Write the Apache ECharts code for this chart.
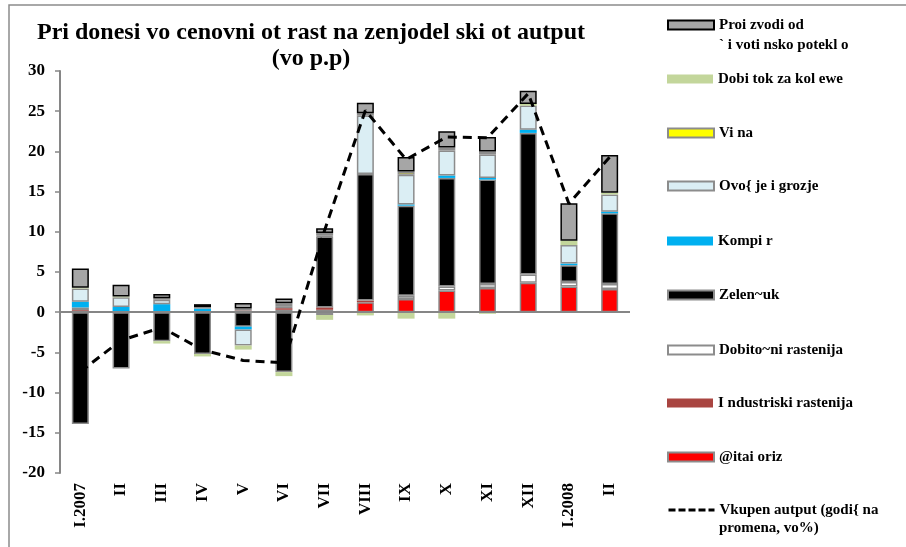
<!DOCTYPE html>
<html>
<head>
<meta charset="utf-8">
<script src="https://cdn.jsdelivr.net/npm/echarts@6/dist/echarts.min.js"></script>
<style>
  html, body { margin: 0; padding: 0; background: #fff; }
  #chart { width: 906px; height: 547px; }
</style>
</head>
<body>
<div id="chart"></div>
<script>
// kategorii (meseci)
const categories = ["I.2007", "II", "III", "IV", "V", "VI", "VII", "VIII", "IX", "X", "XI", "XII", "I.2008", "II"];

// pridonesi po grupi (p.p), redosled od dolu nagore
const zitaOriz     = [null, null, null, null, null, 0.3, 0.3, 1.25, 1.65, 2.7, 3.0, 3.65, 3.2, 2.9];
const industriski  = [0.25, 0.05, 0.15, 0.15, 0.2, 0.2, 0.3, 0.2, -0.1, null, null, null, null, null];
const dobitocni    = [0.35, null, null, null, null, null, -0.35, null, 0.4, 0.5, 0.5, 1.05, 0.55, 0.6];
const zelencuk     = [-13.9, -7.0, -3.6, -5.2, -1.8, -7.45, 8.8, 15.75, 11.2, 13.5, 13.0, 17.6, 2.1, 8.8];
const kompir       = [0.7, 0.6, 0.85, 0.3, -0.35, null, null, null, 0.15, 0.3, 0.2, 0.4, 0.2, 0.2];
const ovosje       = [1.65, 1.2, 0.55, null, -2.0, 0.25, 0.12, 7.25, 3.7, 3.1, 2.9, 3.0, 2.3, 2.15];
const vina         = [null, null, 0.2, 0.2, 0.25, 0.35, 0.33, 0.3, 0.4, 0.4, 0.4, null, null, null];
const dobitok      = [0.1, 0.1, -0.3, -0.3, -0.5, -0.5, -0.6, -0.4, -0.7, -0.8, -0.2, 0.2, 0.55, 0.2];
const proizvodi    = [2.4, 1.45, 0.5, 0.35, 0.7, 0.6, 0.58, 1.3, 1.8, 2.0, 1.8, 1.65, 4.65, 4.7];

// vkupen autput (godisna promena, vo %)
const vkupen = [-7.4, -3.5, -1.9, -4.7, -6.0, -6.3, 10.2, 25.1, 19.0, 21.8, 21.7, 27.2, 13.5, 19.3];

const yTicks = { min: -20, max: 30, step: 5 };

const serif = "Liberation Serif";
const chart = echarts.init(document.getElementById("chart"));

// stolbovi: ime (prv red, vtor red), podatoci, boja, rab
const barDefs = [
  [["@itai oriz"], zitaOriz, "#ff0000", "#8c8c8c", 1.5],
  [["I ndustriski rastenija"], industriski, "#a94541", null, 0],
  [["Dobito~ni rastenija"], dobitocni, "#ffffff", "#8c8c8c", 1.5],
  [["Zelen~uk"], zelencuk, "#000000", "#8c8c8c", 1.5],
  [["Kompi r"], kompir, "#00b0f0", null, 0],
  [["Ovo{ je i grozje"], ovosje, "#dbeef4", "#8c8c8c", 1.5],
  [["Vi na"], vina, "#ffff00", "#8c8c8c", 1.5],
  [["Dobi tok za kol ewe"], dobitok, "#c3d69b", null, 0],
  [["Proi zvodi od", "` i voti nsko potekl o"], proizvodi, "#a6a6a6", "#000000", 1.5],
];
const lineLabel = ["Vkupen autput (godi{ na", "promena, vo%)"];

let series = barDefs.map(([label, data, color, border, bw]) => ({
  name: label.join(" "),
  type: "bar",
  stack: "pridonesi",
  barWidth: 17,
  data: data,
  itemStyle: { color: color, borderColor: border || color, borderWidth: bw },
}));
series[0].markLine = {
  silent: true,
  symbol: "none",
  label: { show: false },
  lineStyle: { color: "#868686", width: 2, type: "solid" },
  data: [{ yAxis: 0 }],
};
series.push({
  name: lineLabel.join(" "),
  type: "line",
  data: vkupen,
  symbol: "none",
  z: 5,
  itemStyle: { color: "#000" },
  lineStyle: { color: "#000", width: 3, type: [9, 6] },
});

// legenda: posebno za sekoj red, kako vo originalot
const legendRows = [
  [barDefs[8][0], 25],
  [barDefs[7][0], 79],
  [barDefs[6][0], 133],
  [barDefs[5][0], 186],
  [barDefs[4][0], 241],
  [barDefs[3][0], 295],
  [barDefs[2][0], 350],
  [barDefs[1][0], 403],
  [barDefs[0][0], 457],
  [lineLabel, 510],
];
const lh = 19;
const legendFont = { fontFamily: serif, fontWeight: "bold", fontSize: 15, fill: "#000" };
const legends = legendRows.map(([label, cy]) => {
  const isLine = label === lineLabel;
  return {
    data: [label.join(" ")],
    orient: "vertical",
    left: 667,
    top: cy - lh / 2,
    padding: 0,
    itemWidth: 46,
    itemHeight: 9,
    icon: isLine ? undefined : "rect",
    selectedMode: false,
    formatter: () => label[0],
    itemStyle: isLine ? { opacity: 0 } : {},
    lineStyle: { width: 3, type: [7, 3] },
    textStyle: {
      fontFamily: serif,
      fontWeight: "bold",
      fontSize: 15,
      color: "#000",
      lineHeight: lh,
    },
  };
});
// vtori redovi od dolgite natpisi vo legendata
const secondLines = legendRows
  .filter(([label]) => label.length > 1)
  .map(([label, cy]) => ({
    type: "text",
    x: 719,
    y: cy + (label === lineLabel ? 18 : 20),
    style: Object.assign({ text: label[1], verticalAlign: "middle" }, legendFont),
  }));

let option = {
  backgroundColor: "#fff",
  animation: false,
  graphic: [
    {
      type: "rect",
      shape: { x: 9, y: 5, width: 910, height: 560 },
      style: { fill: "none", stroke: "#8c8c8c", lineWidth: 1.5 },
      silent: true,
    },
    {
      type: "text",
      x: 311,
      y: 33,
      style: {
        text: "Pri donesi vo cenovni ot rast na zenjodel ski ot autput",
        fontFamily: serif,
        fontWeight: "bold",
        fontSize: 24,
        fill: "#000",
        align: "center",
        verticalAlign: "middle",
      },
    },
    {
      type: "text",
      x: 311,
      y: 59,
      style: {
        text: "(vo p.p)",
        fontFamily: serif,
        fontWeight: "bold",
        fontSize: 24,
        fill: "#000",
        align: "center",
        verticalAlign: "middle",
      },
    },
  ].concat(secondLines),
  legend: legends,
  grid: { left: 60, right: 276, top: 71, bottom: 74, containLabel: false },
  xAxis: {
    type: "category",
    data: categories,
    axisLine: { show: false, onZero: false },
    axisTick: { show: false },
    axisLabel: {
      rotate: 90,
      margin: 10,
      interval: 0,
      fontFamily: serif,
      fontWeight: "bold",
      fontSize: 17,
      color: "#000",
    },
  },
  yAxis: {
    type: "value",
    min: yTicks.min,
    max: yTicks.max,
    interval: yTicks.step,
    axisLine: { show: true, lineStyle: { color: "#868686", width: 2 } },
    axisTick: { show: true, length: 5, lineStyle: { color: "#868686", width: 1.5 } },
    splitLine: { show: false },
    axisLabel: {
      margin: 15,
      fontFamily: serif,
      fontWeight: "bold",
      fontSize: 17,
      color: "#000",
    },
  },
  series: series,
};

option && chart.setOption(option);
</script>
</body>
</html>
